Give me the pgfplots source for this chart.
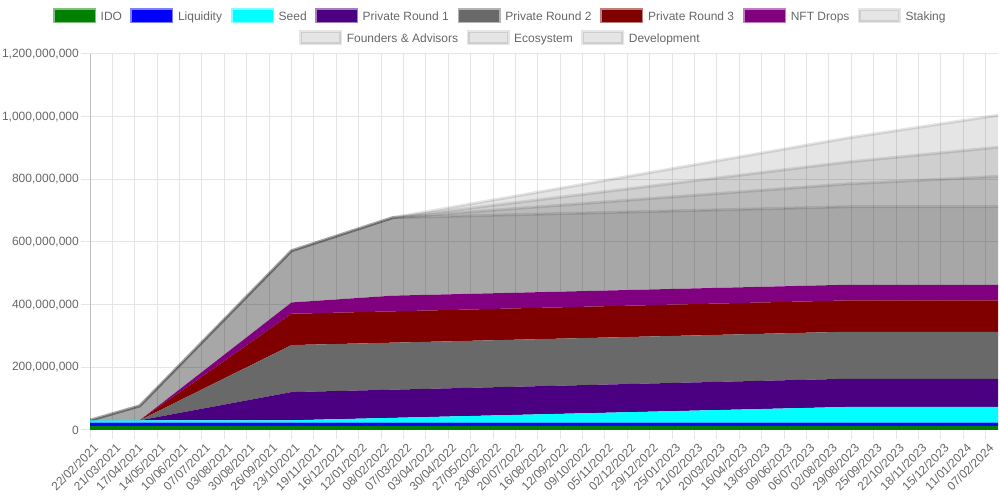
\documentclass[border=0pt]{standalone}
\usepackage{pgfplots}
\pgfplotsset{compat=1.18}
\usepackage{pgfplotstable}
\usepackage{fontspec}
\setmainfont{Liberation Sans}
\definecolor{txt}{HTML}{666666}
\definecolor{cIDO}{HTML}{008000}
\definecolor{cLIQ}{HTML}{0000FF}
\definecolor{cSEED}{HTML}{00FFFF}
\definecolor{cPR1}{HTML}{4B0082}
\definecolor{cPR2}{HTML}{696969}
\definecolor{cPR3}{HTML}{800000}
\definecolor{cNFT}{HTML}{800080}
\newcommand\legfont{\fontsize{12bp}{14bp}\selectfont}
\newcommand\legbox[4]{%
  \fill[#3] (#1,#2-6) rectangle ++(40,12);
  \draw[#3, draw opacity=0.5, line width=3bp] (#1,#2-6) rectangle ++(40,12);
  \node[anchor=base west, inner sep=0pt, text=txt, font=\legfont] at (#1+46,#2-4.2) {#4};}
\newcommand\leggray[3]{%
  \fill[black, fill opacity=0.1] (#1,#2-6) rectangle ++(40,12);
  \draw[black, draw opacity=0.1, line width=3bp] (#1,#2-6) rectangle ++(40,12);
  \node[anchor=base west, inner sep=0pt, text=txt, font=\legfont] at (#1+46,#2-4.2) {#3};}
\pgfplotstableread{
d IDO LIQ SEED PR1 PR2 PR3 NFT STK FND ECO DEV Z
0 13500000 10000000 7500000 0 0 0 0 0 0 0 0 0
60 13500000 10000000 7500000 0 0 0 0 46000000 0 0 0 0
243 13500000 10000000 7500000 90000000 150000000 100000000 36000000 165000000 0 0 0 0
365 13500000 10000000 15200000 90000000 150000000 100000000 50000000 249000000 0 0 0 0
913 13500000 10000000 50000000 90000000 150000000 100000000 50000000 249000000 72800000 69800000 76600000 0
1095 13500000 10000000 50000000 90000000 150000000 100000000 50000000 249000000 97000000 93000000 102000000 0
}\data
\begin{document}
\begin{tikzpicture}[x=1bp,y=1bp]
\begin{axis}[
  at={(90bp,70bp)}, anchor=south west,
  scale only axis, width=908bp, height=376bp,
  xmin=0, xmax=1095, ymin=0, ymax=1200000000,
  scaled y ticks=false,
  stack plots=y,
  axis lines*=left,
  axis line style={draw=black!25, line width=1bp},
  grid=major, grid style={draw=black!10, line width=1bp},
  tick align=outside, major tick length=9bp,
  tick style={draw=black!10, line width=1bp},
  xtick={0,27,...,1080},
  xticklabels={22/02/2021,21/03/2021,17/04/2021,14/05/2021,10/06/2021,07/07/2021,03/08/2021,30/08/2021,26/09/2021,23/10/2021,19/11/2021,16/12/2021,12/01/2022,08/02/2022,07/03/2022,03/04/2022,30/04/2022,27/05/2022,23/06/2022,20/07/2022,16/08/2022,12/09/2022,09/10/2022,05/11/2022,02/12/2022,29/12/2022,25/01/2023,21/02/2023,20/03/2023,16/04/2023,13/05/2023,09/06/2023,06/07/2023,02/08/2023,29/08/2023,25/09/2023,22/10/2023,18/11/2023,15/12/2023,11/01/2024,07/02/2024},
  ytick={0,200000000,400000000,600000000,800000000,1000000000,1200000000},
  yticklabels={0,{200,000,000},{400,000,000},{600,000,000},{800,000,000},{1,000,000,000},{1,200,000,000}},
  ticklabel style={font=\legfont, text=txt, inner sep=0pt},
  xticklabel style={xshift=6bp, yshift=-7bp, rotate=45, anchor=east},
  yticklabel style={anchor=east, xshift=-2bp},
]
\addplot[fill=cIDO, draw=none] table[x=d, y=IDO] {\data} \closedcycle;
\addplot[fill=cLIQ, draw=none] table[x=d, y=LIQ] {\data} \closedcycle;
\addplot[fill=cSEED, draw=none] table[x=d, y=SEED] {\data} \closedcycle;
\addplot[fill=cPR1, draw=none] table[x=d, y=PR1] {\data} \closedcycle;
\addplot[fill=cPR2, draw=none] table[x=d, y=PR2] {\data} \closedcycle;
\addplot[fill=cPR3, draw=none] table[x=d, y=PR3] {\data} \closedcycle;
\addplot[fill=cNFT, draw=none] table[x=d, y=NFT] {\data} \closedcycle;
\addplot[fill=black, fill opacity=0.3439, draw=none] table[x=d, y=STK] {\data} \closedcycle;
\addplot[draw=black, draw opacity=0.1, line width=3bp, mark=none] table[x=d, y=Z] {\data};
\addplot[fill=black, fill opacity=0.271, draw=none] table[x=d, y=FND] {\data} \closedcycle;
\addplot[draw=black, draw opacity=0.1, line width=3bp, mark=none] table[x=d, y=Z] {\data};
\addplot[fill=black, fill opacity=0.19, draw=none] table[x=d, y=ECO] {\data} \closedcycle;
\addplot[draw=black, draw opacity=0.1, line width=3bp, mark=none] table[x=d, y=Z] {\data};
\addplot[fill=black, fill opacity=0.1, draw=none] table[x=d, y=DEV] {\data} \closedcycle;
\addplot[draw=black, draw opacity=0.1, line width=3bp, mark=none] table[x=d, y=Z] {\data};
\end{axis}
\legbox{54.5}{484}{cIDO}{IDO}
\legbox{131.8}{484}{cLIQ}{Liquidity}
\legbox{232.5}{484}{cSEED}{Seed}
\legbox{316.5}{484}{cPR1}{Private Round 1}
\legbox{459.2}{484}{cPR2}{Private Round 2}
\legbox{601.9}{484}{cPR3}{Private Round 3}
\legbox{744.6}{484}{cNFT}{NFT Drops}
\leggray{859.3}{484}{Staking}
\leggray{300.6}{462}{Founders \& Advisors}
\leggray{468}{462}{Ecosystem}
\leggray{582.7}{462}{Development}
\pgfresetboundingbox
\path[use as bounding box] (0,0) rectangle (1000,500);
\end{tikzpicture}
\end{document}
